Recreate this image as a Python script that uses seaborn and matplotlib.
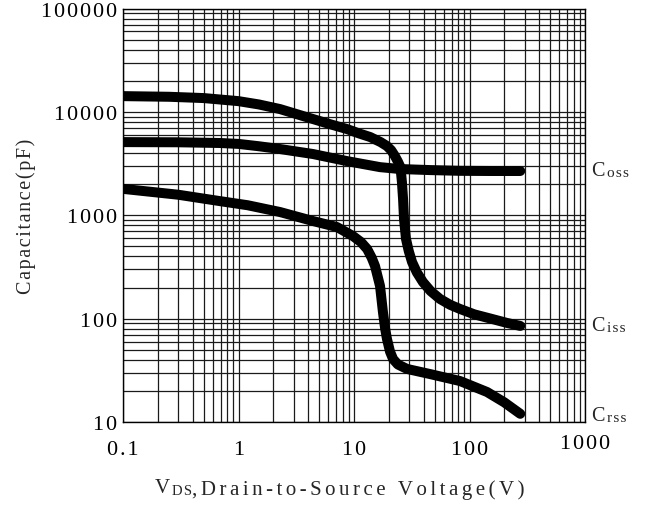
import numpy as np
import pandas as pd
import matplotlib
matplotlib.use("Agg")
import matplotlib.pyplot as plt
import matplotlib.transforms as mtransforms
import seaborn as sns

# curve data (V in volts, C in pF)
ciss_v = [0.1, 0.25, 0.5, 1, 1.5, 2.29, 3.2, 4.42, 6.2, 8.7, 11, 13.8, 17, 19.3, 21, 22.6, 24, 25,
          25.6, 26, 26.6, 27.1, 28.2, 29.8, 31.8, 35, 39.5, 46, 55.5, 68, 82.8, 110, 158, 210, 275]
ciss_c = [14200, 14000, 13600, 12700, 11800, 10640, 9500, 8520, 7600, 6820, 6200, 5710, 5100, 4670,
          4250, 3740, 3300, 2990, 2500, 2090, 1430, 918, 589, 450, 353, 280, 226, 185, 155, 136, 124,
          110, 99, 91, 85]

coss_v = [0.1, 0.3, 0.69, 1, 1.5, 2.29, 4.42, 8.7, 16.8, 25, 45.5, 82.8, 150, 275]
coss_c = [5100, 5080, 5000, 4900, 4650, 4370, 3910, 3340, 2920, 2800, 2735, 2690, 2680, 2680]

crss_v = [0.1, 0.3, 0.69, 1.2, 2.29, 4.42, 7.12, 9.8, 11.5, 13, 14.2, 15.2, 16.8, 17.8, 18.6, 19.3,
          20.5, 21.8, 24, 28.8, 45.5, 82.8, 142, 200, 275]
crss_c = [1800, 1580, 1370, 1250, 1074, 879, 769, 629, 550, 471, 390, 323, 207, 116, 80, 63.5,
          48, 40.6, 36, 32.6, 29.1, 24.9, 19.5, 15.5, 12]

x_ticks = [0.1, 1, 10, 100, 1000]
x_ticklabels = ["0.1", "1", "10", "100", "1000"]
y_ticks = [10, 100, 1000, 10000, 100000]
y_ticklabels = ["10", "100", "1000", "10000", "100000"]

# right-hand curve labels: (subscript, y position in pF)
curve_labels = [("oss", 2680), ("iss", 85), ("rss", 11.5)]

df = pd.concat([
    pd.DataFrame({"curve": "Ciss", "V": ciss_v, "C": ciss_c}),
    pd.DataFrame({"curve": "Coss", "V": coss_v, "C": coss_c}),
    pd.DataFrame({"curve": "Crss", "V": crss_v, "C": crss_c}),
])

HAIR = "\u200a"


def spaced(s, sep=HAIR):
    # the original uses a widely tracked Times face
    return sep.join(s)


sns.set_style("white")
plt.rcParams["font.family"] = ["Liberation Serif", "DejaVu Serif"]

fig = plt.figure(figsize=(6.49, 5.06), dpi=100)
ax = fig.add_axes([123 / 649, 1 - 423 / 506, (585 - 123) / 649, (423 - 9.5) / 506])

for name, grp in df.groupby("curve"):
    sns.lineplot(data=grp, x="V", y="C", sort=False, estimator=None,
                 color="black", lw=7.2, solid_capstyle="round", solid_joinstyle="round",
                 ax=ax, zorder=3)

ax.set_xscale("log")
ax.set_yscale("log")
ax.set_xlim(0.1, 1000)
ax.set_ylim(10, 100000)
ax.grid(which="both", color="#1a1a1a", lw=0.9)
ax.set_axisbelow(True)
ax.set_xticks(x_ticks)
ax.set_xticklabels([spaced(t) for t in x_ticklabels])
ax.set_yticks(y_ticks)
ax.set_yticklabels([spaced(t) for t in y_ticklabels])
ax.tick_params(which="both", length=0, labelsize=16, colors="black")
ax.tick_params(axis="x", pad=13)
ax.tick_params(axis="y", pad=4)
# the "1000" label sits a little higher in the original
last = ax.get_xticklabels()[-1]
last.set_transform(last.get_transform() +
                   mtransforms.ScaledTranslation(0, 4 / 72, fig.dpi_scale_trans))
for s in ax.spines.values():
    s.set_color("black")
    s.set_linewidth(1.0)

ax.set_xlabel("")
ax.set_ylabel(spaced("Capacitance(pF)"), fontsize=14.5, labelpad=4)

# x label with small "DS"
t1 = fig.text(155 / 649, 1 - 493 / 506, "V", fontsize=15, ha="left", va="baseline")
t2 = ax.annotate(spaced("DS"), xy=(1, 0), xycoords=t1, fontsize=10.5, ha="left", va="bottom",
                 xytext=(1, 0), textcoords="offset points")
ax.annotate(spaced(",Drain-to-Source Voltage(V)", "\u2006"), xy=(1, 0), xycoords=t2,
            fontsize=15, ha="left", va="bottom", xytext=(0, -1.5), textcoords="offset points")

# curve labels on the right
trans = mtransforms.blended_transform_factory(ax.transAxes, ax.transData)
for sub, yv in curve_labels:
    c = ax.text(1.014, yv, "C", transform=trans, fontsize=14.5, ha="left", va="center")
    ax.annotate(spaced(sub), xy=(1, 0), xycoords=c, fontsize=11, ha="left", va="bottom",
                xytext=(1.5, 1), textcoords="offset points")

fig.savefig("out.png", dpi=100)
